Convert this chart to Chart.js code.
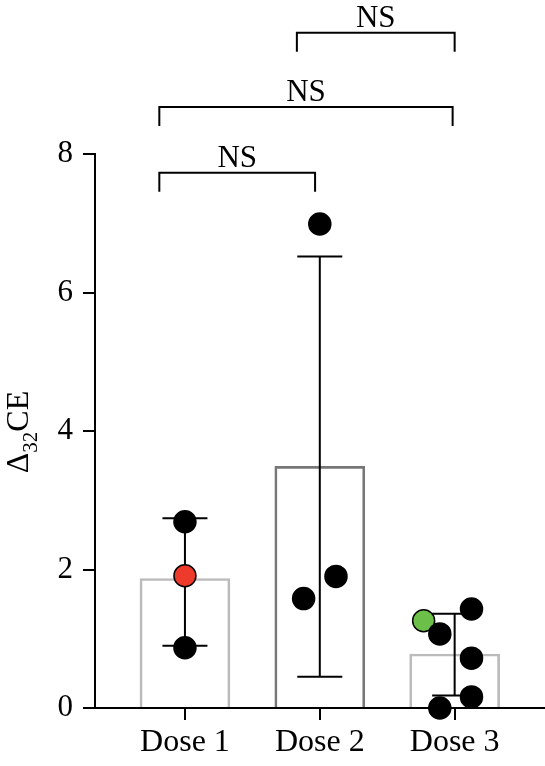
<!DOCTYPE html>
<html>
<head>
<meta charset="utf-8">
<script src="https://cdn.jsdelivr.net/npm/chart.js@4/dist/chart.umd.min.js"></script>
<style>
  html, body { margin: 0; padding: 0; background: #fff; }
  #wrap { width: 545px; height: 766px; }
</style>
</head>
<body>
<div id="wrap"><canvas id="c" width="545" height="766"></canvas></div>
<script>
// ---- data ----
const categories = ['Dose 1', 'Dose 2', 'Dose 3'];
const categoryPos = [1, 2, 3];
const barMeans = [1.87, 3.49, 0.78];
const errLow = [0.90, 0.45, 0.18];
const errHigh = [2.74, 6.52, 1.36];
const yTicks = [0, 2, 4, 6, 8];

const dose1Values = [2.69, 1.91, 0.87];
const dose1Jitter = [0, 0, 0];
const dose1Colors = ['#000000', '#ee3a2b', '#000000'];

const dose2Values = [1.58, 1.90, 6.99];
const dose2Jitter = [-0.12, 0.12, 0];
const dose2Colors = ['#000000', '#000000', '#000000'];

const dose3Values = [1.26, 1.07, 1.43, 0.72, 0.16, 0.0];
const dose3Jitter = [-0.23, -0.11, 0.125, 0.125, 0.125, -0.11];
const dose3Colors = ['#6cc04a', '#000000', '#000000', '#000000', '#000000', '#000000'];

const brackets = [
  { from: 0.81, to: 1.965, y: 7.73, label: 'NS' },
  { from: 0.81, to: 2.985, y: 8.68, label: 'NS' },
  { from: 1.83, to: 3.0, y: 9.75, label: 'NS' }
];

// ---- build datasets ----
const groups = [
  { pos: categoryPos[0], vals: dose1Values, jit: dose1Jitter, cols: dose1Colors },
  { pos: categoryPos[1], vals: dose2Values, jit: dose2Jitter, cols: dose2Colors },
  { pos: categoryPos[2], vals: dose3Values, jit: dose3Jitter, cols: dose3Colors }
];
const points = [];
const pointColors = [];
groups.forEach(g => {
  g.vals.forEach((v, i) => {
    points.push({ x: g.pos + g.jit[i], y: v });
    pointColors.push(g.cols[i]);
  });
});
const barData = categories.map((c, i) => ({ x: categoryPos[i], y: barMeans[i] }));

const FONT = "'Liberation Serif', 'Times New Roman', serif";

const errorBarPlugin = {
  id: 'errorBars',
  afterDatasetDraw(chart, args) {
    if (chart.data.datasets[args.index].type !== 'bar') return;
    const ctx = chart.ctx, xs = chart.scales.x, ys = chart.scales.y;
    ctx.save();
    ctx.strokeStyle = '#000';
    ctx.lineWidth = 2;
    categoryPos.forEach((p, i) => {
      const x = xs.getPixelForValue(p);
      const yl = ys.getPixelForValue(errLow[i]);
      const yh = ys.getPixelForValue(errHigh[i]);
      const cap = 22.5;
      ctx.beginPath();
      ctx.moveTo(x, yl); ctx.lineTo(x, yh);
      ctx.moveTo(x - cap, yl); ctx.lineTo(x + cap, yl);
      ctx.moveTo(x - cap, yh); ctx.lineTo(x + cap, yh);
      ctx.stroke();
    });
    ctx.restore();
  }
};

const annotatePlugin = {
  id: 'annotate',
  afterDraw(chart) {
    const ctx = chart.ctx, xs = chart.scales.x, ys = chart.scales.y;
    ctx.save();
    // significance brackets
    ctx.strokeStyle = '#000';
    ctx.lineWidth = 2;
    ctx.fillStyle = '#000';
    ctx.font = '31px ' + FONT;
    ctx.textAlign = 'center';
    ctx.textBaseline = 'alphabetic';
    brackets.forEach(b => {
      const x1 = xs.getPixelForValue(b.from);
      const x2 = xs.getPixelForValue(b.to);
      const y = ys.getPixelForValue(b.y);
      const drop = 19;
      ctx.beginPath();
      ctx.moveTo(x1, y + drop); ctx.lineTo(x1, y); ctx.lineTo(x2, y); ctx.lineTo(x2, y + drop);
      ctx.stroke();
      ctx.fillText(b.label, (x1 + x2) / 2, y - 6);
    });
    // y axis title: Δ32CE with subscript
    const cy = (ys.getPixelForValue(0) + ys.getPixelForValue(8)) / 2 + 1;
    ctx.translate(28, cy);
    ctx.rotate(-Math.PI / 2);
    ctx.textAlign = 'left';
    const mainFont = '32px ' + FONT, subFont = '21px ' + FONT;
    ctx.font = mainFont; const wD = ctx.measureText('Δ').width; const wCE = ctx.measureText('CE').width;
    ctx.font = subFont; const wS = ctx.measureText('32').width;
    let x = -(wD + wS + wCE) / 2;
    ctx.font = mainFont; ctx.fillText('Δ', x, 0); x += wD;
    ctx.font = subFont; ctx.fillText('32', x, 9); x += wS;
    ctx.font = mainFont; ctx.fillText('CE', x, 0);
    ctx.restore();
  }
};

new Chart(document.getElementById('c'), {
  type: 'bar',
  data: {
    datasets: [
      {
        type: 'scatter',
        data: points,
        order: 1,
        pointRadius: 11,
        pointHoverRadius: 11,
        pointBackgroundColor: pointColors,
        pointBorderColor: '#000',
        pointBorderWidth: 1.5,
        clip: false
      },
      {
        type: 'bar',
        data: barData,
        order: 2,
        barThickness: 90,
        backgroundColor: 'rgba(255,255,255,0)',
        borderColor: ['#bbbbbb', '#777777', '#bbbbbb'],
        borderWidth: 2,
        borderSkipped: 'bottom'
      }
    ]
  },
  options: {
    responsive: false,
    animation: false,
    events: [],
    layout: { autoPadding: false, padding: { top: 154, left: 0, right: 0, bottom: 0 } },
    plugins: { legend: { display: false }, tooltip: { enabled: false } },
    scales: {
      x: {
        type: 'linear',
        min: 0.333,
        max: 3.67,
        offset: false,
        afterBuildTicks: s => { s.ticks = categoryPos.map(v => ({ value: v })); },
        afterFit: s => { s.height = 58; s.paddingLeft = 0; s.paddingRight = 0; },
        ticks: {
          callback: v => categories[categoryPos.indexOf(v)],
          font: { family: FONT, size: 32 },
          color: '#000',
          padding: 3,
          maxRotation: 0,
          autoSkip: false
        },
        grid: { display: true, offset: false, drawOnChartArea: false, drawTicks: true, tickLength: 12, color: '#000', lineWidth: 2 },
        border: { display: true, color: '#000', width: 2 }
      },
      y: {
        type: 'linear',
        min: 0,
        max: 8,
        afterBuildTicks: s => { s.ticks = yTicks.map(v => ({ value: v })); },
        afterFit: s => { s.width = 95; s.paddingLeft = 0; s.paddingRight = 0; },
        ticks: {
          font: { family: FONT, size: 31 },
          color: '#000',
          padding: 10
        },
        grid: { display: true, drawOnChartArea: false, drawTicks: true, tickLength: 12, color: '#000', lineWidth: 2 },
        border: { display: true, color: '#000', width: 2 }
      }
    }
  },
  plugins: [errorBarPlugin, annotatePlugin]
});
</script>
</body>
</html>
